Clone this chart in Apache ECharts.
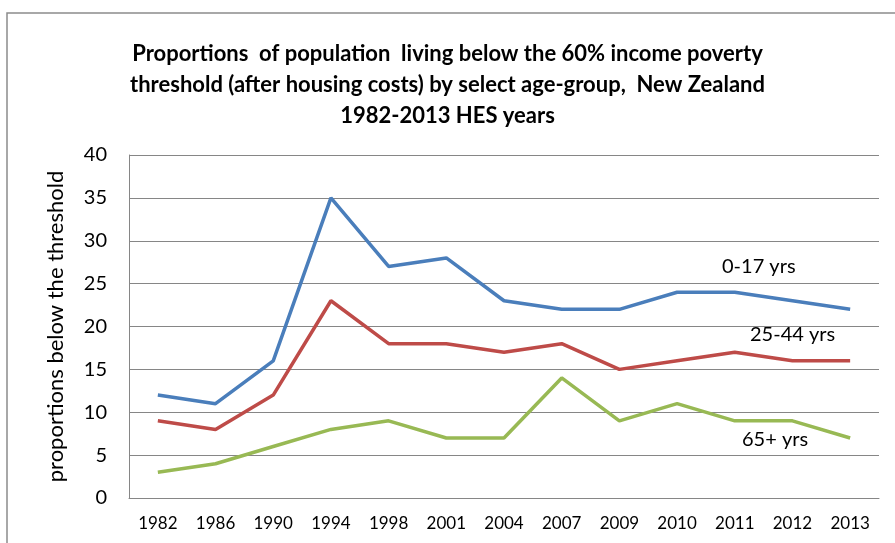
<!DOCTYPE html>
<html>
<head>
<meta charset="utf-8">
<script src="https://cdn.jsdelivr.net/npm/echarts@6/dist/echarts.min.js"></script>
<style>
html, body { margin: 0; padding: 0; background: #fff; }
#main { width: 895px; height: 543px; }
</style>
</head>
<body>
<div id="main"></div>
<script>
// HES years
var years = ['1982', '1986', '1990', '1994', '1998', '2001', '2004', '2007', '2009', '2010', '2011', '2012', '2013'];
// proportions below threshold, by age group
var age0to17 = [12, 11, 16, 35, 27, 28, 23, 22, 22, 24, 24, 23, 22];
var age25to44 = [9, 8, 12, 23, 18, 18, 17, 18, 15, 16, 17, 16, 16];
var age65plus = [3, 4, 6, 8, 9, 7, 7, 14, 9, 11, 9, 9, 7];
var seriesNames = ['0-17 yrs', '25-44 yrs', '65+ yrs'];

var font = 'Lato, "Open Sans", sans-serif';

var myChart = echarts.init(document.getElementById('main'));

function lineSeries(name, data, color) {
    return {
        name: name,
        type: 'line',
        data: data,
        symbol: 'none',
        lineStyle: { color: color, width: 3.5 },
        itemStyle: { color: color },
        animation: false
    };
}

var option = {
    backgroundColor: '#fff',
    title: {
        text: 'Proportions  of population  living below the 60% income poverty\nthreshold (after housing costs) by select age-group,  New Zealand\n1982-2013 HES years',
        left: 'center',
        top: 33,
        textStyle: {
            fontFamily: font,
            fontWeight: 'bold',
            fontSize: 22,
            lineHeight: 31,
            color: '#000'
        }
    },
    grid: {
        left: 129,
        right: 16,
        top: 155,
        bottom: 45
    },
    xAxis: {
        type: 'category',
        data: years,
        boundaryGap: true,
        axisLine: { lineStyle: { color: '#868686', width: 1 } },
        axisTick: { show: false },
        axisLabel: {
            fontFamily: font,
            fontSize: 17,
            color: '#000',
            margin: 17
        }
    },
    yAxis: {
        type: 'value',
        min: 0,
        max: 40,
        interval: 5,
        name: 'proportions below the threshold',
        nameLocation: 'middle',
        nameGap: 62,
        nameTextStyle: {
            fontFamily: font,
            fontSize: 22,
            color: '#000'
        },
        axisLine: { show: true, lineStyle: { color: '#868686', width: 1 } },
        axisTick: { show: false },
        axisLabel: {
            fontFamily: font,
            fontSize: 20,
            color: '#000',
            margin: 22
        },
        splitLine: { lineStyle: { color: '#868686', width: 1 } }
    },
    graphic: [
        {
            type: 'rect',
            shape: { x: 7, y: 13, width: 900, height: 540 },
            style: { fill: 'none', stroke: '#8c8c8c', lineWidth: 1.5 },
            silent: true
        },
        {
            type: 'text', left: 722, top: 257,
            style: { text: seriesNames[0], fontFamily: font, fontSize: 20, fill: '#000' }
        },
        {
            type: 'text', left: 750, top: 325,
            style: { text: seriesNames[1], fontFamily: font, fontSize: 20, fill: '#000' }
        },
        {
            type: 'text', left: 742, top: 430,
            style: { text: seriesNames[2], fontFamily: font, fontSize: 20, fill: '#000' }
        }
    ],
    series: [
        lineSeries(seriesNames[0], age0to17, '#4a7ebb'),
        lineSeries(seriesNames[1], age25to44, '#be4b48'),
        lineSeries(seriesNames[2], age65plus, '#98b954')
    ]
};

myChart.setOption(option);
</script>
</body>
</html>
